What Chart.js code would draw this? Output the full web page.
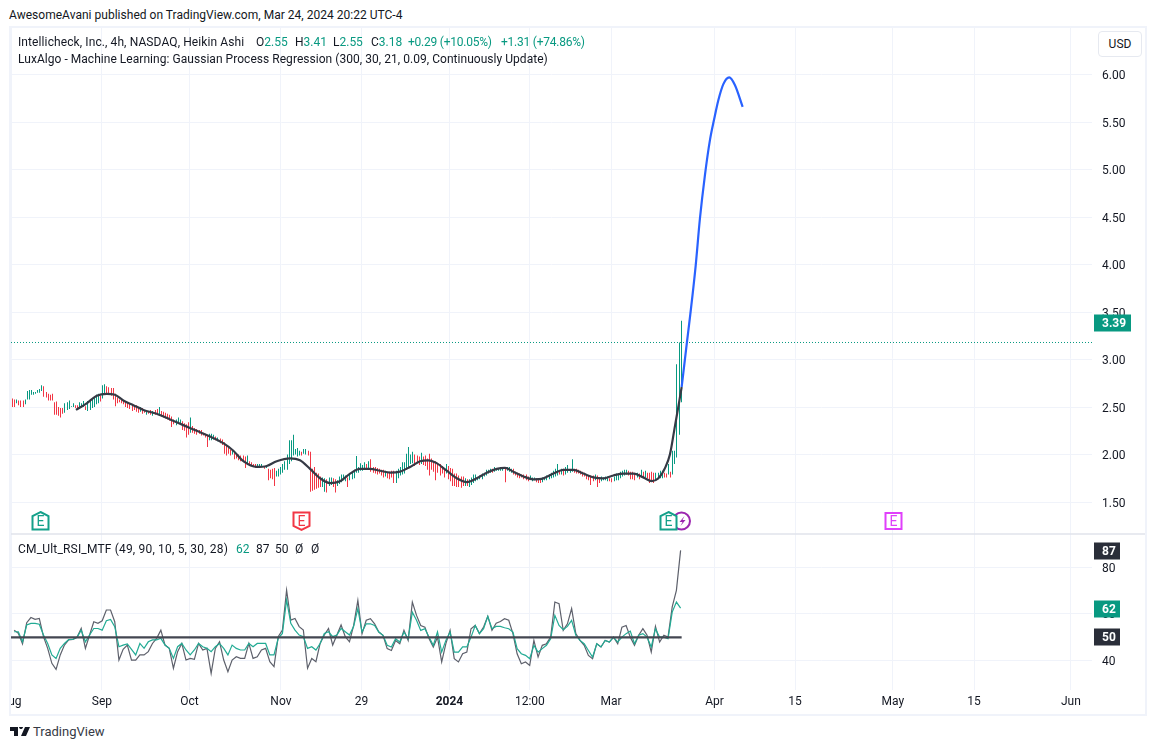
<!DOCTYPE html>
<html>
<head>
<meta charset="utf-8">
<title>Intellicheck 4h</title>
<script src="https://cdn.jsdelivr.net/npm/chart.js@4/dist/chart.umd.js"></script>
<style>
  html, body { margin: 0; padding: 0; background: #fff; }
  body { width: 1156px; height: 750px; position: relative; overflow: hidden; font-family: Roboto, sans-serif; color: #131722; }
  #box { position: absolute; left: 10px; top: 27px; width: 1136px; height: 688px; overflow: hidden; }
  #chart { position: absolute; left: -10px; top: -27px; }
  #frame { position: absolute; left: 9px; top: 26px; width: 1134px; height: 686px; border: 2px solid #f0f3fa; pointer-events: none; }
  .txt { position: absolute; white-space: pre; font-size: 12px; line-height: 16px; }
  .up { color: #089981; }
  #usd { position: absolute; left: 1098px; top: 31px; width: 42px; height: 24px; border: 1px solid #e6e9f0; border-radius: 4px; font-size: 12px; line-height: 24px; text-align: center; background: #fff; }
  #logo { position: absolute; left: 10px; top: 727px; }
</style>
</head>
<body>
<div id="box"><canvas id="chart" width="1156" height="750"></canvas></div>
<div id="frame"></div>
<div class="txt" style="left:9px;top:7px;letter-spacing:.02px">AwesomeAvani published on TradingView.com, Mar 24, 2024 20:22 UTC-4</div>
<div class="txt" style="left:18px;top:34px;letter-spacing:.1px">Intellicheck, Inc., 4h, NASDAQ, Heikin Ashi</div>
<div class="txt" style="left:256px;top:34px">O<span class="up">2.55</span></div>
<div class="txt" style="left:295px;top:34px">H<span class="up">3.41</span></div>
<div class="txt" style="left:333px;top:34px">L<span class="up">2.55</span></div>
<div class="txt" style="left:371px;top:34px">C<span class="up">3.18</span></div>
<div class="txt up" style="left:408px;top:34px;letter-spacing:-.23px">+0.29 (+10.05%)</div>
<div class="txt up" style="left:501px;top:34px;letter-spacing:-.23px">+1.31 (+74.86%)</div>
<div class="txt" style="left:18px;top:51px;letter-spacing:.04px">LuxAlgo - Machine Learning: Gaussian Process Regression (300, 30, 21, 0.09, Continuously Update)</div>
<div class="txt" style="left:18px;top:541px;letter-spacing:.18px">CM_Ult_RSI_MTF (49, 90, 10, 5, 30, 28)</div>
<div class="txt up" style="left:236px;top:541px">62</div>
<div class="txt" style="left:256px;top:541px">87</div>
<div class="txt" style="left:275px;top:541px">50</div>
<div class="txt" style="left:295px;top:541px">Ø</div>
<div class="txt" style="left:311px;top:541px">Ø</div>
<div id="usd">USD</div>
<svg id="logo" width="20" height="10" viewBox="0 0 20 10"><path d="M0 0h8v9H4V4H0z M9 0a2 2 0 1 1 0 .01z M15 0h5l-4 9h-5z" fill="#131722"/></svg>
<div class="txt" style="left:33px;top:724px;font-size:13px;color:#363a45">TradingView</div>

<script>
// bar highs / lows, one per 4h bar
const barHigh = [
  2.59,2.58,2.58,2.57,2.57,2.57,2.58,2.67,2.68,2.68,
  2.66,2.66,2.68,2.69,2.73,2.72,2.66,2.64,2.63,2.64,
  2.55,2.56,2.50,2.49,2.49,2.54,2.55,2.57,2.51,2.54,
  2.52,2.52,2.55,2.54,2.565,2.51,2.565,2.57,2.58,2.60,
  2.63,2.64,2.62,2.73,2.74,2.72,2.71,2.70,2.70,2.64,
  2.60,2.58,2.58,2.57,2.56,2.55,2.54,2.53,2.51,2.52,
  2.50,2.50,2.49,2.47,2.47,2.46,2.47,2.46,2.47,2.48,
  2.50,2.46,2.45,2.44,2.43,2.42,2.40,2.37,2.37,2.39,
  2.37,2.35,2.33,2.32,2.34,2.39,2.30,2.28,2.27,2.26,
  2.26,2.23,2.22,2.21,2.22,2.22,2.21,2.19,2.18,2.17,
  2.16,2.13,2.10,2.08,2.05,2.04,2.03,2.01,2.00,1.99,
  1.99,1.98,1.99,1.93,1.92,1.90,1.90,1.90,1.90,1.90,
  1.88,1.89,1.85,1.84,1.85,1.86,1.83,1.85,1.87,1.90,
  1.93,2.00,2.15,2.15,2.21,2.06,2.07,2.04,2.03,2.06,
  2.06,2.04,2.03,1.85,1.87,1.81,1.80,1.77,1.76,1.75,
  1.74,1.76,1.76,1.75,1.74,1.73,1.77,1.79,1.79,1.78,
  1.76,1.79,1.82,1.84,1.985,1.87,1.91,1.89,1.92,1.90,
  1.93,1.95,1.87,1.87,1.86,1.85,1.84,1.84,1.83,1.82,
  1.82,1.83,1.83,1.83,1.85,1.87,1.92,1.92,2.01,2.08,
  2.00,2.03,2.00,1.99,1.98,2.02,1.98,1.99,1.96,2.01,
  1.96,1.93,1.93,1.91,1.90,1.88,1.85,1.90,1.88,1.86,
  1.85,1.80,1.80,1.78,1.77,1.77,1.75,1.74,1.74,1.76,
  1.79,1.79,1.76,1.78,1.80,1.81,1.84,1.84,1.85,1.85,
  1.87,1.86,1.86,1.87,1.85,1.86,1.87,1.87,1.85,1.85,
  1.82,1.81,1.80,1.79,1.79,1.79,1.77,1.78,1.76,1.76,
  1.75,1.75,1.74,1.76,1.76,1.78,1.79,1.81,1.83,1.85,
  1.90,1.83,1.85,1.85,1.87,1.89,1.84,1.95,1.85,1.85,
  1.84,1.83,1.82,1.81,1.79,1.78,1.78,1.78,1.79,1.78,
  1.76,1.77,1.76,1.77,1.77,1.75,1.75,1.77,1.80,1.80,
  1.82,1.83,1.84,1.84,1.83,1.82,1.82,1.81,1.81,1.80,
  1.84,1.82,1.83,1.81,1.81,1.82,1.81,1.81,1.81,1.83,
  1.83,1.81,1.80,1.90,1.82,2.04,2.04,2.95,3.18,3.41
];
const barLow = [
  2.50,2.50,2.54,2.52,2.50,2.50,2.53,2.58,2.58,2.63,
  2.63,2.64,2.65,2.65,2.67,2.61,2.60,2.57,2.57,2.57,
  2.42,2.42,2.41,2.39,2.43,2.44,2.47,2.48,2.50,2.50,
  2.49,2.48,2.49,2.495,2.50,2.47,2.46,2.47,2.49,2.50,
  2.53,2.54,2.56,2.59,2.635,2.64,2.635,2.62,2.58,2.51,
  2.54,2.55,2.54,2.53,2.50,2.49,2.48,2.46,2.47,2.45,
  2.44,2.45,2.43,2.44,2.42,2.43,2.42,2.41,2.42,2.42,
  2.41,2.40,2.39,2.38,2.37,2.36,2.29,2.32,2.31,2.33,
  2.32,2.26,2.25,2.18,2.21,2.23,2.23,2.22,2.21,2.22,
  2.20,2.20,2.18,2.08,2.15,2.15,2.16,2.15,2.14,2.12,
  2.10,2.01,1.99,2.01,1.99,2.00,1.95,1.96,1.94,1.93,
  1.92,1.86,1.91,1.89,1.88,1.87,1.86,1.86,1.87,1.87,
  1.85,1.86,1.73,1.75,1.74,1.67,1.77,1.77,1.79,1.81,
  1.84,1.84,1.90,1.93,1.99,2.00,1.98,1.99,1.99,2.01,
  2.00,1.99,1.61,1.62,1.63,1.64,1.65,1.66,1.66,1.61,
  1.60,1.67,1.68,1.66,1.60,1.67,1.69,1.71,1.73,1.72,
  1.66,1.73,1.74,1.75,1.81,1.81,1.83,1.83,1.84,1.84,
  1.84,1.82,1.81,1.80,1.79,1.80,1.78,1.76,1.77,1.75,
  1.74,1.76,1.70,1.70,1.75,1.78,1.79,1.80,1.84,1.87,
  1.90,1.91,1.88,1.91,1.89,1.90,1.89,1.88,1.84,1.78,
  1.84,1.82,1.73,1.81,1.78,1.80,1.76,1.80,1.74,1.72,
  1.67,1.67,1.66,1.66,1.65,1.67,1.67,1.67,1.66,1.68,
  1.70,1.72,1.73,1.74,1.74,1.77,1.78,1.80,1.81,1.81,
  1.82,1.83,1.83,1.83,1.83,1.71,1.83,1.82,1.81,1.79,
  1.78,1.76,1.75,1.76,1.74,1.73,1.72,1.74,1.72,1.73,
  1.71,1.70,1.70,1.71,1.73,1.73,1.74,1.75,1.76,1.77,
  1.78,1.79,1.79,1.78,1.79,1.81,1.81,1.82,1.81,1.80,
  1.80,1.79,1.77,1.77,1.74,1.73,1.68,1.72,1.73,1.66,
  1.70,1.72,1.73,1.73,1.72,1.72,1.71,1.72,1.73,1.73,
  1.75,1.77,1.78,1.79,1.78,1.74,1.74,1.73,1.76,1.74,
  1.77,1.75,1.76,1.75,1.70,1.72,1.70,1.73,1.74,1.75,
  1.75,1.76,1.76,1.79,1.76,1.79,1.90,1.97,2.21,2.55
];
// 1 = bar closed up, 0 = closed down
const barUp = [
  0,0,1,0,0,0,1,1,1,1, 1,1,1,1,1,0,0,0,0,0,
  0,0,0,0,0,1,1,1,1,1, 0,0,1,1,1,0,1,1,1,1,
  1,1,0,1,1,0,0,0,0,0, 0,0,0,0,0,0,0,0,0,0,
  0,1,0,0,1,0,0,1,0,0, 1,0,0,0,0,0,0,0,1,1,
  1,0,0,0,0,1,0,0,0,0, 0,0,0,0,1,1,1,0,1,0,
  0,0,0,0,0,1,0,0,0,0, 0,0,1,0,0,0,0,1,1,1,
  0,1,0,0,0,0,1,1,1,1, 1,1,1,1,1,1,1,1,0,1,
  1,0,0,0,0,0,0,0,1,1, 0,1,1,0,0,1,1,1,1,1,
  0,1,1,1,1,1,1,1,1,0, 1,0,0,0,0,0,0,0,1,0,
  0,0,0,1,1,1,1,1,1,1, 1,1,0,0,0,1,0,0,0,0,
  0,0,0,0,0,0,0,1,0,0, 0,0,0,0,0,0,1,0,1,1,
  1,1,1,1,1,1,1,1,1,0, 1,1,1,1,1,0,1,1,1,0,
  0,0,0,0,0,0,0,1,1,1, 0,0,0,1,1,1,1,1,1,1,
  1,0,1,0,1,1,1,1,0,0, 0,0,0,0,0,0,0,0,1,0,
  0,1,1,1,1,0,0,1,1,1, 1,1,1,1,0,0,0,0,1,0,
  1,0,1,0,0,0,0,1,1,1, 1,0,0,1,0,1,1,1,1,1
];

// Gaussian process curve, fitted part then forecast
const gprBars = [30.5,35.6,40.4,45.2,49.1,53.1,57.9,62.7,69,75.4,81.7,88.1,94.5,100.8,105.6,110.4,116.7,121.5,126.3,132.6,137.4,142.2,147,151.7,156.5,161.3,166,170.8,175.6,180.4,185.1,189.9,194.7,198.6,202.6,207.4,212.2,217,221.7,226.5,231.3,235.2,239.2,244,248.7,253.5,258.3,263,267.8,272.6,277.4,282.1,286.9,291.7,296.5,301.2,305.2,308.4,311.6,313.9,316.3,318.4,319.5];
const gprValues = [2.47,2.54,2.62,2.64,2.63,2.57,2.52,2.47,2.43,2.37,2.31,2.25,2.19,2.12,2.04,1.93,1.87,1.88,1.93,1.96,1.94,1.85,1.75,1.70,1.72,1.80,1.85,1.85,1.83,1.81,1.82,1.87,1.93,1.94,1.91,1.83,1.75,1.71,1.75,1.81,1.85,1.86,1.82,1.77,1.74,1.75,1.80,1.84,1.84,1.80,1.76,1.75,1.78,1.80,1.80,1.76,1.72,1.75,1.86,2.00,2.30,2.565,2.71];
const forecastBars = [319.5,321.9,323.6,326.2,328.2,330.6,333,335.1,337,339.4,342.2,344.9,348.6];
const forecastValues = [2.71,3.16,3.47,3.99,4.48,4.94,5.31,5.54,5.73,5.90,5.97,5.89,5.66];

// RSI pair, one value every second bar starting at bar 1
const rsiGray = [
  53.1,51.7,47.2,56.3,58.5,57.7,58.1,50.3,45.3,38.9,36.3,42.5,46.7,48.9,49.1,50,53.8,45.3,51,56.7,
  56,57.1,61.7,61.7,56.7,40.3,44.9,46.7,40.3,40.3,42.5,42.5,43.9,47.4,49.6,53.1,46.7,45.3,36.8,43.9,
  47.4,40.3,41,40.6,47.4,44.6,45.3,34.6,45.3,48.1,40.3,35.3,40.3,41.7,41,41,47.4,41,41.7,44.6,
  45.3,39.6,37.5,50.3,53.1,70.2,57.4,58.1,54.6,53.1,36.8,41,39.6,47.4,51,53.8,46.7,51,55.3,50.3,48.1,
  55.1,65.8,51.6,57.3,58,55.8,52.3,50.9,45.2,44.4,48.7,47.3,53,48.7,65.1,59.4,55.1,54.4,49.4,45.9,
  50.1,39.5,47.3,53,40.9,39.5,43,43.7,53.7,55.1,51.6,54.4,59,53,56.1,56.8,58,57.3,51.6,43,
  38.7,39.5,38,48.7,41.6,46.6,47.3,50.1,65.1,64.4,53,55.8,62.3,51.6,48.7,46.6,42.3,40.9,47.3,45.9,
  48.7,48,50.1,47.3,54.4,55.1,50.1,46.6,50.9,53.7,50.9,43.7,54.7,48,50.9,50.1,63,70.1,87.2
];
const rsiGreen = [
  52.4,52.4,48.1,55.3,56,56,55.6,51,47.4,42.5,41,45.3,47.4,49.1,49.1,50,53.1,48.1,51,53.8,
  53.8,53.1,57.1,57.7,54.6,46,46.7,47.2,44.9,42.5,47.4,45.3,48.1,48.9,48.9,49.6,46.7,45.3,41,46,
  47.4,44.6,42.5,44.6,47.4,46,45.3,43.9,46,47.4,45.3,42.5,46.7,45.3,44.6,44.6,47.4,46,47.4,47.4,
  47.4,42.5,42.5,49.6,51.7,66,56,53.1,51,50.3,45.3,46,44.6,47.4,51.7,52.4,50.3,51,53.8,52.4,51,
  54.7,62.3,52.3,55.8,55.8,55.1,52.3,50.9,46.6,45.9,49.4,48,52.3,49.4,60.8,57.3,53,53.7,50.1,46.6,
  52.3,43.7,48.7,52.3,43.7,43.7,45.9,45.9,50.1,55.1,51.6,53.7,59,53.7,54.7,54.7,54.1,53.7,52.3,45.2,
  43,42.3,40.9,46.6,43.7,45.2,46.6,49.4,59.4,55.1,53.3,54.7,57.3,50.9,48.7,47.3,44.4,41.6,47.3,45.9,
  48.7,48,50.1,48,50.1,51.6,52.7,47.3,50.9,51.6,50.1,45.9,53.7,50.1,50.1,49.4,60.8,65.1,62.5
];
const rsiBaseBars = [-0.5, 319.5];
const rsiBaseValues = [50, 50];

const lastClose = 3.18;
const priceTags = [3.39];
const rsiTags = [87, 62, 50];
const priceTicks = [1.5,2,2.5,3,3.5,4,4.5,5,5.5,6];
const rsiTicks = [40,60,80];

// time axis ticks, expressed in bars
const timeTicks = [-0.5,42.9,84.7,128.3,166.7,208.7,247.1,285.8,335.2,373.6,420.3,459,505.2];
const timeLabels = ['Aug','Sep','Oct','Nov','29','2024','12:00','Mar','Apr','15','May','15','Jun'];

// earnings / dividend style badges
const eventBars = [319.2, 13.4, 137.9, 313, 420.3];
const eventKinds = ['split', 'up', 'down', 'up', 'next'];

const GREEN = '#089981', RED = '#f23645', GRID = '#f0f3fa', TEXT = '#131722';

function bars(high, low) {
    return high.map(function (h, i) { return { x: i, y: [low[i], h] }; });
}
function points(xs, ys) {
    return ys.map(function (y, i) { return { x: xs[i], y: y }; });
}
function rsiPoints(values) {
    return values.map(function (v, i) { return { x: 1 + i * 2, y: v }; });
}

function fixedTicks(list) {
    return function (scale) { scale.ticks = list.map(function (v) { return { value: v }; }); };
}
function fixWidth(scale) {
    scale.width = 54;
    scale.paddingTop = 0;
    scale.paddingBottom = 0;
}

// price tags on the right axis + badges under the price pane
const overlays = {
    id: 'overlays',
    beforeDatasetsDraw: function (chart) {
        // keep the 1px bars on whole pixels, like the original
        chart.getDatasetMeta(0).data.forEach(function (el) {
            el.x = Math.round(el.x) + 0.5;
        });
    },
    afterDatasetsDraw: function (chart) {
        const ctx = chart.ctx, xs = chart.scales.x, base = 521;
        ctx.save();
        ctx.textAlign = 'center';
        ctx.textBaseline = 'middle';
        eventBars.forEach(function (b, i) {
            const x = Math.round(xs.getPixelForValue(b)) + 0.5;
            const kind = eventKinds[i];
            ctx.lineWidth = 2;
            if (kind === 'split') {
                ctx.strokeStyle = '#9c27b0';
                ctx.beginPath();
                ctx.arc(x, base, 8.5, 0, Math.PI * 2);
                ctx.fillStyle = '#fff';
                ctx.fill();
                ctx.stroke();
                ctx.fillStyle = '#9c27b0';
                ctx.beginPath();
                ctx.moveTo(x + 3, base - 5); ctx.lineTo(x - 2, base + 1); ctx.lineTo(x + 1, base + 1);
                ctx.lineTo(x - 1, base + 5); ctx.lineTo(x + 4, base - 1); ctx.lineTo(x + 1, base - 1);
                ctx.closePath();
                ctx.fill();
                return;
            }
            const color = kind === 'up' ? '#14a08a' : kind === 'down' ? RED : '#e040fb';
            ctx.strokeStyle = color;
            ctx.fillStyle = '#fff';
            ctx.beginPath();
            if (kind === 'up') {
                ctx.moveTo(x, base - 9); ctx.lineTo(x + 8, base - 5); ctx.lineTo(x + 8, base + 8.5);
                ctx.lineTo(x - 8, base + 8.5); ctx.lineTo(x - 8, base - 5);
            } else if (kind === 'down') {
                ctx.moveTo(x - 8, base - 8.5); ctx.lineTo(x + 8, base - 8.5); ctx.lineTo(x + 8, base + 5);
                ctx.lineTo(x, base + 9); ctx.lineTo(x - 8, base + 5);
            } else {
                ctx.rect(x - 8, base - 8, 16, 16);
            }
            ctx.closePath();
            ctx.fill();
            ctx.stroke();
            ctx.fillStyle = color;
            ctx.font = '14px Roboto';
            ctx.fillText('E', x, base + 1);
        });
        ctx.strokeStyle = '#e0e3eb';
        ctx.lineWidth = 1.5;
        ctx.beginPath();
        ctx.moveTo(11, chart.scales.y.bottom);
        ctx.lineTo(1146, chart.scales.y.bottom);
        ctx.stroke();
        ctx.restore();
    },
    afterDraw: function (chart) {
        const ctx = chart.ctx;
        function tag(y, w, fill, label) {
            ctx.fillStyle = fill;
            ctx.fillRect(1094, Math.round(y) - 8.5, w, 17);
            ctx.fillStyle = '#fff';
            ctx.font = 'bold 12px Roboto';
            ctx.textAlign = 'left';
            ctx.textBaseline = 'middle';
            ctx.fillText(label, 1102, Math.round(y) + 0.5);
        }
        ctx.save();
        priceTags.forEach(function (v) {
            tag(chart.scales.y.getPixelForValue(v), 37, GREEN, v.toFixed(2));
        });
        rsiTags.forEach(function (v) {
            tag(chart.scales.rsi.getPixelForValue(v), 26, v === 62 ? GREEN : '#2a2e39', String(v));
        });
        ctx.restore();
    }
};

new Chart(document.getElementById('chart'), {
    type: 'bar',
    plugins: [overlays],
    data: {
        datasets: [
            {
                type: 'bar', yAxisID: 'y', data: bars(barHigh, barLow),
                backgroundColor: barUp.map(function (u) { return u ? GREEN : RED; }),
                barThickness: 1, inflateAmount: 0, order: 3
            },
            {
                type: 'line', yAxisID: 'y', data: points(gprBars, gprValues), borderColor: '#363a45',
                borderWidth: 2.2, pointRadius: 0, cubicInterpolationMode: 'monotone', order: 2
            },
            {
                type: 'line', yAxisID: 'y', data: points(forecastBars, forecastValues), borderColor: '#2962ff',
                borderWidth: 2.2, pointRadius: 0, cubicInterpolationMode: 'monotone', order: 2
            },
            {
                type: 'line', yAxisID: 'y', data: [{ x: -0.5, y: lastClose }, { x: 515.3, y: lastClose }],
                borderColor: GREEN, borderWidth: 1, borderDash: [1, 2], pointRadius: 0, order: 4
            },
            {
                type: 'line', yAxisID: 'rsi', data: rsiPoints(rsiGray), borderColor: '#5d606b',
                borderWidth: 1.2, pointRadius: 0, order: 2
            },
            {
                type: 'line', yAxisID: 'rsi', data: rsiPoints(rsiGreen), borderColor: '#22ab94',
                borderWidth: 1.2, pointRadius: 0, order: 1
            },
            {
                type: 'line', yAxisID: 'rsi', data: points(rsiBaseBars, rsiBaseValues), borderColor: '#434651',
                borderWidth: 2.4, pointRadius: 0, order: 0
            }
        ]
    },
    options: {
        responsive: false,
        animation: false,
        devicePixelRatio: 1,
        layout: { padding: { left: 11, right: 10, top: 27, bottom: 35 } },
        plugins: { legend: { display: false }, tooltip: { enabled: false } },
        scales: {
            x: {
                type: 'linear', min: -0.5, max: 515.3, offset: false,
                afterBuildTicks: fixedTicks(timeTicks),
                afterFit: function (s) { s.height = 25; s.paddingLeft = 0; s.paddingRight = 0; },
                border: { display: false },
                grid: { color: GRID, drawTicks: false, offset: false },
                ticks: {
                    autoSkip: false, maxRotation: 0, padding: 5, color: TEXT,
                    font: function (c) {
                        return { family: 'Roboto', size: 12, weight: timeLabels[c.index] === '2024' ? 'bold' : 'normal' };
                    },
                    callback: function (v, i) { return timeLabels[i]; }
                }
            },
            y: {
                position: 'right', stack: 'panes', stackWeight: 507, min: 1.164, max: 6.501,
                afterBuildTicks: fixedTicks(priceTicks), afterFit: fixWidth,
                border: { display: false },
                grid: { color: GRID, drawTicks: false },
                ticks: {
                    autoSkip: false, padding: 10, color: TEXT, font: { family: 'Roboto', size: 12 },
                    labelOffset: 1.5,
                    callback: function (v) { return v.toFixed(2); }
                }
            },
            rsi: {
                position: 'right', stack: 'panes', stackWeight: 156, min: 27.5, max: 94.2,
                afterBuildTicks: fixedTicks(rsiTicks), afterFit: fixWidth,
                border: { display: false },
                grid: { color: GRID, drawTicks: false },
                ticks: {
                    autoSkip: false, padding: 10, color: TEXT, font: { family: 'Roboto', size: 12 },
                    labelOffset: 1.5,
                    callback: function (v) { return String(v); }
                }
            }
        }
    }
});
</script>
</body>
</html>
